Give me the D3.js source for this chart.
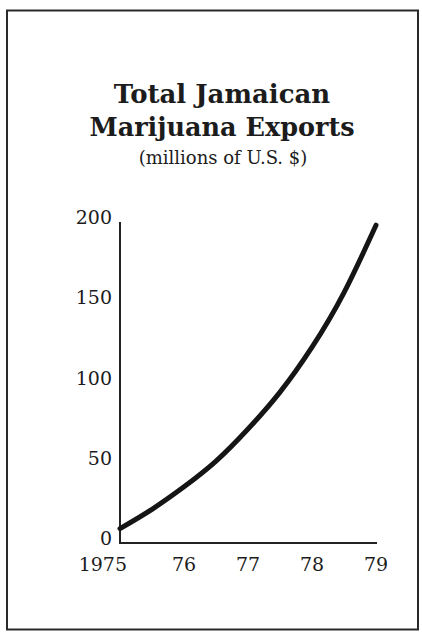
<!DOCTYPE html>
<html>
<head>
<meta charset="utf-8">
<script src="https://cdn.jsdelivr.net/npm/d3@7"></script>
<style>
  html, body { margin: 0; padding: 0; background: #fff; }
  svg { display: block; }
  text { font-family: "DejaVu Serif", serif; fill: #1c1c1c; }
</style>
</head>
<body>
<div id="chart"></div>
<script>
// values (millions of U.S. $)
const years = [1975, 1975.5, 1976, 1976.5, 1977, 1977.5, 1978, 1978.5, 1979];
const exports = [9, 21, 35, 51, 71, 94, 122, 156, 198];
const yTicks = [0, 50, 100, 150, 200];
const xTicks = [1975, 1976, 1977, 1978, 1979];
const xTickLabels = ["1975", "76", "77", "78", "79"];

const width = 422, height = 632;

const svg = d3.select("#chart")
  .append("svg")
  .attr("width", width)
  .attr("height", height);

// frame round the whole figure
svg.append("rect")
  .attr("x", 7)
  .attr("y", 10.5)
  .attr("width", 411)
  .attr("height", 619)
  .attr("fill", "none")
  .attr("stroke", "#2a2a2a")
  .attr("stroke-width", 2);

// --- titles
svg.append("text")
  .attr("x", 222).attr("y", 103)
  .attr("text-anchor", "middle")
  .attr("font-weight", "bold")
  .attr("font-size", 26)
  .text("Total Jamaican");

svg.append("text")
  .attr("x", 222).attr("y", 136)
  .attr("text-anchor", "middle")
  .attr("font-weight", "bold")
  .attr("font-size", 25.5)
  .text("Marijuana Exports");

svg.append("text")
  .attr("x", 223).attr("y", 164)
  .attr("text-anchor", "middle")
  .attr("font-size", 18)
  .text("(millions of U.S. $)");

// --- scales
const x = d3.scaleLinear().domain([1975, 1979]).range([120, 376]);
const y = d3.scaleLinear().domain([0, 200]).range([543, 222]);

// y axis: plain line, labels sitting on the value
svg.append("line")
  .attr("x1", x(1975)).attr("x2", x(1975))
  .attr("y1", y(200)).attr("y2", y(0))
  .attr("stroke", "#222").attr("stroke-width", 2);

svg.selectAll(".ylab")
  .data(yTicks)
  .enter()
  .append("text")
  .attr("class", "ylab")
  .attr("x", 112)
  .attr("y", function (d) { return y(d) + 2; })
  .attr("text-anchor", "end")
  .attr("font-size", 19)
  .text(function (d) { return d; });

// x axis
svg.append("line")
  .attr("x1", x(1975) - 1).attr("x2", x(1979) + 1)
  .attr("y1", y(0)).attr("y2", y(0))
  .attr("stroke", "#222").attr("stroke-width", 2);

svg.selectAll(".xlab")
  .data(xTicks)
  .enter()
  .append("text")
  .attr("class", "xlab")
  .attr("x", function (d, i) { return i === 0 ? x(d) + 7 : x(d); })
  .attr("y", 571)
  .attr("text-anchor", function (d, i) { return i === 0 ? "end" : "middle"; })
  .attr("font-size", 19)
  .text(function (d, i) { return xTickLabels[i]; });

// --- the curve
const line = d3.line()
  .x(function (d, i) { return x(years[i]); })
  .y(function (d) { return y(d); })
  .curve(d3.curveNatural);

svg.append("path")
  .datum(exports)
  .attr("d", line)
  .attr("fill", "none")
  .attr("stroke", "#151515")
  .attr("stroke-width", 5)
  .attr("stroke-linecap", "round");
</script>
</body>
</html>
